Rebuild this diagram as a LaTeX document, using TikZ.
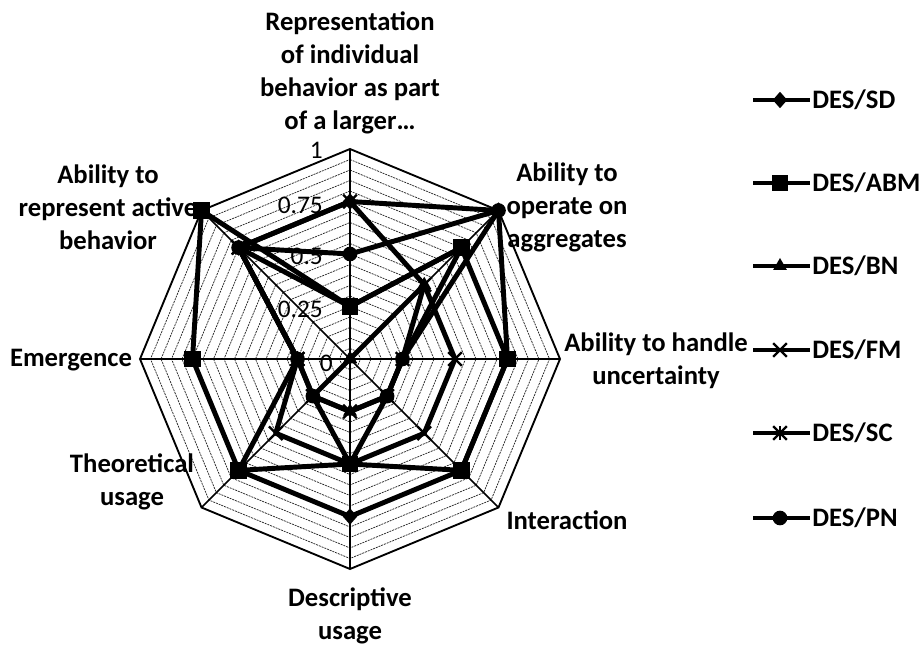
\documentclass[tikz,border=0pt]{standalone}
\usepackage{fontspec}
\setmainfont{Carlito}
\usetikzlibrary{shapes.geometric,shapes.misc}
\begin{document}
\begin{tikzpicture}[x=0.75pt,y=-0.75pt,
  lbl/.style={font=\fontsize{20}{24.75}\selectfont\bfseries, align=center, inner sep=0pt},
  ticklbl/.style={font=\fontsize{19}{20}\selectfont, anchor=east, inner sep=0pt},
  legtxt/.style={font=\fontsize{20}{24}\selectfont\bfseries, anchor=west, inner sep=0pt},
  minorgrid/.style={line width=0.55pt, black!85, dash pattern=on 1.5pt off 0.7pt},
  spoke/.style={line width=1.1pt, black},
  rim/.style={line width=1.4pt, black},
  series/.style={line width=3.7pt, black, line join=round},
  legline/.style={line width=2.4pt, black},
  mkdiamond/.style={diamond, fill=black, inner sep=0pt, minimum width=11pt, minimum height=12.5pt},
  mksquare/.style={rectangle, fill=black, inner sep=0pt, minimum size=12.5pt},
  mktriangle/.style={regular polygon, regular polygon sides=3, fill=black, inner sep=0pt, minimum size=12pt},
  mkcircle/.style={circle, fill=black, inner sep=0pt, minimum size=11pt},
  mkcross/.style={cross out, draw=black, line width=1.7pt, inner sep=0pt, minimum size=8.5pt},
]
\useasboundingbox (0,0) rectangle (920,648);
\fill[white] (0,0) rectangle (920,648);

% centre and radius of the chart, in px
\def\cx{350}\def\cy{359}\def\rr{210}

% minor grid: concentric octagons every 0.05
\foreach \g in {1,...,19}{
  \draw[minorgrid] ({\cx+\rr*\g/20*cos(90)},{\cy-\rr*\g/20*sin(90)})
    \foreach \k in {1,...,7}{ -- ({\cx+\rr*\g/20*cos(90-45*\k)},{\cy-\rr*\g/20*sin(90-45*\k)}) } -- cycle;
}
% spokes and outer rim
\foreach \k in {0,...,7}{
  \coordinate (ax\k) at ({\cx+\rr*cos(90-45*\k)},{\cy-\rr*sin(90-45*\k)});
}
\coordinate (ctr) at (\cx,\cy);
\foreach \k in {0,...,7}{ \draw[spoke] (ctr) -- (ax\k); }
\draw[rim] (ax0) -- (ax1) -- (ax2) -- (ax3) -- (ax4) -- (ax5) -- (ax6) -- (ax7) -- cycle;

% tick labels on the vertical axis
\node[ticklbl] (t100) at (323,150) {1};
\node[ticklbl] (t075) at (323,205) {0.75};
\node[ticklbl] (t050) at (323,256) {0.5};
\node[ticklbl] (t025) at (323,309) {0.25};
\node[ticklbl] (t000) at (333,363) {0};

% data series (values on axes 0..7, clockwise from the top)
\def\seriesdata{
  SD/{0.75,1,0.75,0.75,0.75,0.75,0.25,0.75},
  ABM/{0.25,0.75,0.75,0.75,0.5,0.75,0.75,1},
  BN/{0,0.5,0.25,0.25,0.25,0.25,0,0},
  FM/{0.75,0.5,0.5,0.5,0.5,0.5,0.25,0.75},
  SC/{0.25,0.75,0.25,0.25,0.25,0.25,0.25,0.75},
  PN/{0.5,1,0.25,0.25,0.5,0.25,0.25,0.75}}
\foreach \s/\vals in \seriesdata{
  \foreach \v [count=\i from 0] in \vals{
    \coordinate (\s-\i) at ({\cx+\rr*\v*cos(90-45*\i)},{\cy-\rr*\v*sin(90-45*\i)});
  }
  \draw[series] (\s-0) -- (\s-1) -- (\s-2) -- (\s-3) -- (\s-4) -- (\s-5) -- (\s-6) -- (\s-7) -- cycle;
}
% markers
\foreach \i in {0,...,7}{
  \node[mkdiamond] at (SD-\i) {};
  \node[mksquare] at (ABM-\i) {};
  \node[mktriangle] at (BN-\i) {};
  \node[mkcross] at (FM-\i) {};
  \node[mkcross] at (SC-\i) {};
  \draw[line width=1.7pt] ([yshift=-5pt]SC-\i) -- ([yshift=5pt]SC-\i);
  \node[mkcircle] at (PN-\i) {};
}

% category labels
\node[lbl] (c0) at (350,73) {Representation\\of individual\\behavior as part\\of a larger…};
\node[lbl] (c1) at (567,207) {Ability to\\operate on\\aggregates};
\node[lbl] (c2) at (656,361) {Ability to handle\\uncertainty};
\node[lbl] (c3) at (567,520) {Interaction};
\node[lbl] (c4) at (350,616) {Descriptive\\usage};
\node[lbl] (c5) at (132,482) {Theoretical\\usage};
\node[lbl] (c6) at (71,360) {Emergence};
\node[lbl] (c7) at (108,207) {Ability to\\represent active\\behavior};

% legend
\foreach \s/\t/\y in {SD/DES\slash SD/100, ABM/DES\slash ABM/183, BN/DES\slash BN/266, FM/DES\slash FM/350, SC/DES\slash SC/433, PN/DES\slash PN/518}{
  \coordinate (lg\s a) at (753,\y);
  \coordinate (lg\s b) at (810,\y);
  \coordinate (lg\s m) at (780,\y);
  \draw[legline] (lg\s a) -- (lg\s b);
  \node[legtxt] (lg\s t) at (812,\y) {\t};
}
\node[mkdiamond] at (lgSDm) {};
\node[mksquare] at (lgABMm) {};
\node[mktriangle] at (lgBNm) {};
\node[mkcross] at (lgFMm) {};
\node[mkcross] at (lgSCm) {};
\draw[line width=1.7pt] ([yshift=-5pt]lgSCm) -- ([yshift=5pt]lgSCm);
\node[mkcircle] at (lgPNm) {};
\end{tikzpicture}
\end{document}
